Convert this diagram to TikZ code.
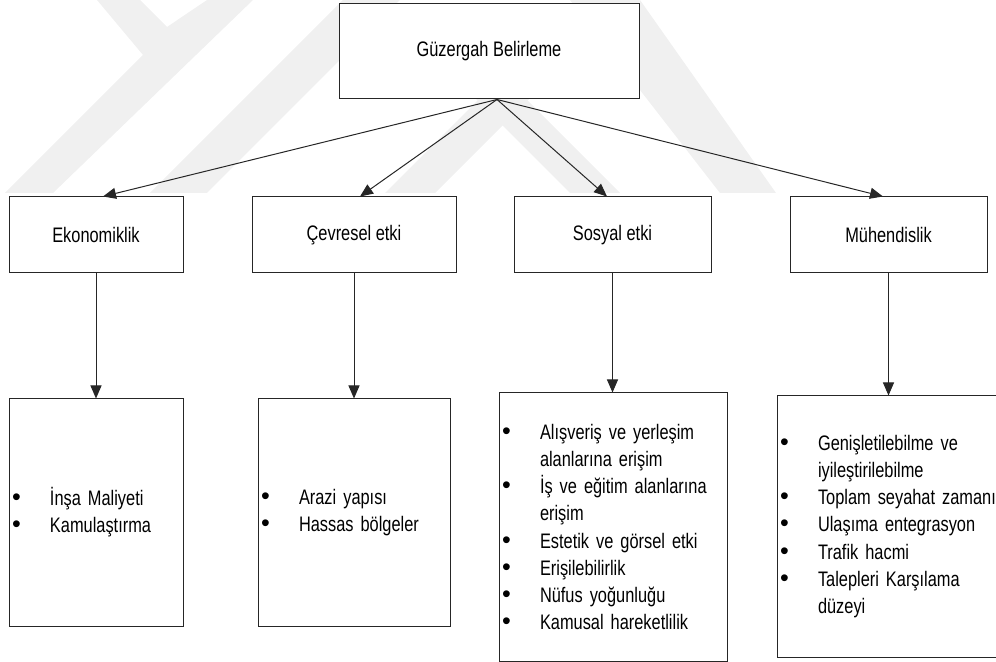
\documentclass[tikz,border=0pt]{standalone}
\usepackage{fontspec}
\setmainfont[FakeStretch=0.78]{Liberation Sans}
\newfontfamily\bulfont{Liberation Sans}
\usetikzlibrary{arrows.meta}

\tikzset{
    box/.style={draw=black!85, line width=0.5pt, fill=white, inner sep=0pt, align=center, font=\fontsize{10.5}{13.6}\selectfont},
    listbox/.style={box, align=left},
    arr/.style={draw=black!85, line width=0.5pt, -{Triangle[length=6.5pt, width=5.5pt]}},
    wm/.style={fill=black!6, draw=none}
}
\newcommand{\bul}{\hspace*{1.6pt}\makebox[18.9pt][l]{{\bulfont\fontsize{12.5}{13.6}\selectfont\textbullet}}}
\newcommand{\ind}{\hspace*{20.5pt}}

\begin{document}
\begin{tikzpicture}[x=0.5pt, y=-0.5pt]
    \useasboundingbox (0,0) rectangle (996,662);

    % faint watermark
    \fill[wm] (97,0) -- (140,0) -- (167,27) -- (207,0) -- (253,0) -- (53,193) -- (5,193) -- (143,55) -- cycle;
    \fill[wm] (150,193) -- (343,0) -- (400,0) -- (207,193) -- cycle;
    \fill[wm] (385,193) -- (485,93) -- (535,93) -- (435,193) -- cycle;
    \fill[wm] (470,93) -- (520,93) -- (620,193) -- (570,193) -- cycle;
    \fill[wm] (570,0) -- (640,0) -- (776,193) -- (720,193) -- cycle;

    \node[box, minimum width=150pt, minimum height=47.5pt] (route) at (489,51.5) {Güzergah Belirleme};

    \node[box, minimum width=87pt, minimum height=38pt] (econ) at (96,235) {Ekonomiklik};
    \node[box, minimum width=102pt, minimum height=38pt] (env) at (354,235) {Çevresel etki};
    \node[box, minimum width=98.5pt, minimum height=38pt] (social) at (612.5,235) {Sosyal etki};
    \node[box, minimum width=98.5pt, minimum height=38pt] (eng) at (888.5,235) {Mühendislik};

    \node[listbox, text width=87pt, minimum height=113.5pt] (econlist) at (96,512.5)
        {\bul İnşa Maliyeti\\ \bul Kamulaştırma};
    \node[listbox, text width=96pt, minimum height=113.5pt] (envlist) at (354,512.5)
        {\bul Arazi yapısı\\ \bul Hassas bölgeler};
    \node[listbox, text width=114pt, minimum height=134pt] (sociallist) at (613,527)
        {\bul Alışveriş ve yerleşim\\ \ind alanlarına erişim\\ \bul İş ve eğitim alanlarına\\ \ind erişim\\
         \bul Estetik ve görsel etki\\ \bul Erişilebilirlik\\ \bul Nüfus yoğunluğu\\ \bul Kamusal hareketlilik};
    \node[listbox, text width=115pt, minimum height=130.5pt] (englist) at (892,526.5)
        {\bul Genişletilebilme ve\\ \ind iyileştirilebilme\\ \bul Toplam seyahat zamanı\\ \bul Ulaşıma entegrasyon\\
         \bul Trafik hacmi\\ \bul Talepleri Karşılama\\ \ind düzeyi};

    \coordinate (hub) at ([xshift=4pt]route.south);
    \draw[arr] (hub) -- ([xshift=3.5pt]econ.north);
    \draw[arr] (hub) -- ([xshift=3pt]env.north);
    \draw[arr] (hub) -- ([xshift=-2.75pt]social.north);
    \draw[arr] (hub) -- ([xshift=-2.75pt]eng.north);

    \draw[arr] (econ.south) -- (econ.south |- econlist.north);
    \draw[arr] (env.south) -- (env.south |- envlist.north);
    \draw[arr] (social.south) -- (social.south |- sociallist.north);
    \draw[arr] (eng.south) -- (eng.south |- englist.north);
\end{tikzpicture}
\end{document}
